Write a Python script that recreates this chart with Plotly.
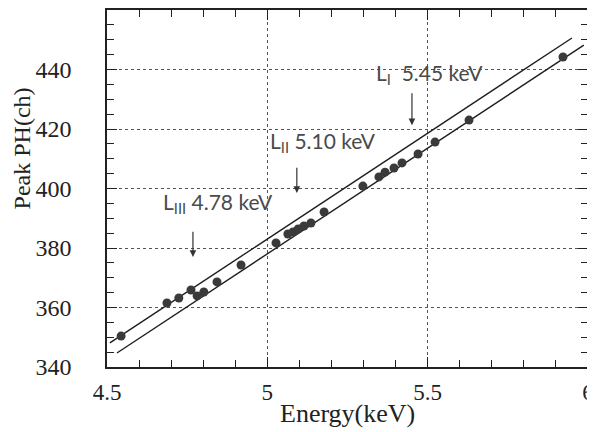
import plotly.graph_objects as go

# Measured data points (Energy keV, Peak PH ch)
energy = [4.544, 4.687, 4.724, 4.762, 4.781, 4.802, 4.843, 4.918,
          5.027, 5.064, 5.080, 5.096, 5.114, 5.136, 5.177,
          5.298, 5.348, 5.367, 5.395, 5.420, 5.470, 5.523, 5.629, 5.922]
peak_ph = [350.4, 361.5, 363.2, 365.9, 363.9, 365.2, 368.6, 374.3,
           381.7, 384.7, 385.4, 386.4, 387.4, 388.4, 392.1,
           400.8, 403.9, 405.5, 406.9, 408.6, 411.6, 415.6, 423.0, 444.2]

# Two fitted lines (end points)
upper_x = [4.509, 5.950]
upper_y = [348.1, 450.6]
lower_x = [4.531, 5.987]
lower_y = [344.7, 448.2]

# Edge labels
edge_labels = ["L<sub>III</sub> 4.78 keV", "L<sub>II</sub> 5.10 keV", "L<sub>I</sub>  5.45 keV"]
edge_energy = [4.768, 5.092, 5.451]
arrow_tip = [377.0, 398.5, 421.3]
arrow_tail = [386.0, 407.5, 432.5]
label_x = [4.845, 5.175, 5.505]
label_y = [395.0, 415.5, 438.5]

x_ticks = [4.5, 5, 5.5, 6]
x_ticktext = ["4.5", "5", "5.5", "6"]
y_ticks = [340, 360, 380, 400, 420, 440]
x_title = "Energy(keV)"
y_title = "Peak PH(ch)"

fig = go.Figure()
fig.add_trace(go.Scatter(x=upper_x, y=upper_y, mode="lines",
                         line=dict(color="#1e1e1e", width=1.4), showlegend=False))
fig.add_trace(go.Scatter(x=lower_x, y=lower_y, mode="lines",
                         line=dict(color="#1e1e1e", width=1.4), showlegend=False))
fig.add_trace(go.Scatter(x=energy, y=peak_ph, mode="markers",
                         marker=dict(color="#3a3a3a", size=9), showlegend=False))

for i in range(len(edge_labels)):
    fig.add_annotation(x=edge_energy[i], y=arrow_tip[i], ax=edge_energy[i], ay=arrow_tail[i],
                       xref="x", yref="y", axref="x", ayref="y", text="",
                       showarrow=True, arrowhead=2, arrowsize=1.1, arrowwidth=1.2,
                       arrowcolor="#333")
    fig.add_annotation(x=label_x[i], y=label_y[i], xref="x", yref="y",
                       text=edge_labels[i], showarrow=False,
                       font=dict(family="Lato", size=21, color="#4a4a4a"))

serif = "Liberation Serif"
fig.add_annotation(x=0.501, y=-0.129, xref="paper", yref="paper", text=x_title,
                   showarrow=False, xanchor="center", yanchor="middle",
                   font=dict(family=serif, size=26, color="#222"))
fig.add_annotation(x=-0.177, y=0.612, xref="paper", yref="paper", text=y_title,
                   showarrow=False, xanchor="center", yanchor="middle", textangle=-90,
                   font=dict(family=serif, size=24, color="#222"))

fig.update_xaxes(range=[4.5, 6], tickvals=x_ticks, ticktext=x_ticktext, automargin=False,
                 ticks="inside", ticklen=10, tickcolor="#222", tickwidth=1,
                 minor=dict(dtick=0.1, tick0=4.5, ticks="inside", ticklen=7, tickcolor="#222"),
                 showline=True, linecolor="#222", linewidth=1.5, mirror="allticks",
                 showgrid=True, gridcolor="#555", griddash="dot", gridwidth=1,
                 zeroline=False, ticklabelstandoff=4,
                 tickfont=dict(family=serif, size=23, color="#222"))
fig.update_yaxes(range=[340, 460], tickvals=y_ticks, automargin=False,
                 ticks="inside", ticklen=10, tickcolor="#222", tickwidth=1,
                 minor=dict(dtick=5, tick0=340, ticks="inside", ticklen=7, tickcolor="#222"),
                 showline=True, linecolor="#222", linewidth=1.5, mirror="allticks",
                 showgrid=True, gridcolor="#555", griddash="dot", gridwidth=1,
                 zeroline=False, ticklabelstandoff=29,
                 tickfont=dict(family=serif, size=24, color="#222"))

# The page body adds an 8 px margin, so the figure is 8 px smaller and placed accordingly
fig.update_layout(width=587, height=424, margin=dict(l=99, r=7, t=2, b=65),
                  plot_bgcolor="white", paper_bgcolor="white")
fig.write_html("out.html")
